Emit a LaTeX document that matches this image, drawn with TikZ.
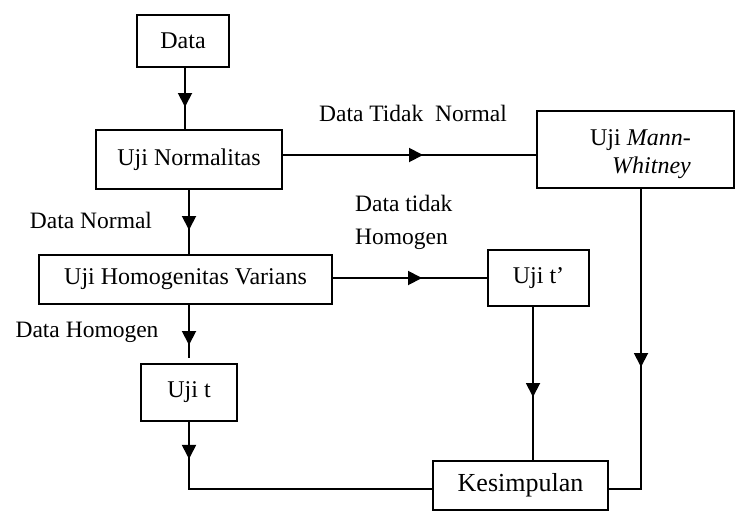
\documentclass[tikz,border=0pt]{standalone}
\usepackage{fontspec}
\setmainfont{Liberation Serif}
\usetikzlibrary{arrows.meta,decorations.markings}
\begin{document}
\begin{tikzpicture}[x=1pt,y=-1pt,
  box/.style={draw,line width=1.9pt,rectangle,inner sep=0pt,font=\fontsize{24}{28}\selectfont},
  lbl/.style={inner sep=0pt,font=\fontsize{23.5}{33}\selectfont},
  conn/.style={line width=1.9pt},
  arrowat/.style={postaction={decorate},decoration={markings,
     mark=at position #1 with {\arrow{Triangle[length=14pt,width=14pt]}}}}]
\useasboundingbox (0,0) rectangle (735,512);
% nodes
\node[box,minimum width=92pt,minimum height=52pt] (data) at (183,41) {Data};
\node[box,minimum width=186pt,minimum height=59pt] (norm) at (189,159.5) {Uji Normalitas};
\node[box,minimum width=293pt,minimum height=49pt] (homo) at (185.5,279.5) {Uji Homogenitas Varians};
\node[box,minimum width=96pt,minimum height=57pt] (ujit) at (189,392.5) {Uji t};
\node[box,minimum width=101pt,minimum height=56pt] (ujitp) at (538.5,278) {Uji t’};
\node[box,minimum width=197pt,minimum height=77pt] (mw) at (635.5,149.5) {};
\node[lbl,align=right,anchor=east,font=\fontsize{24}{28}\selectfont] (mwt) at (691,154) {Uji \textit{Mann-}\\\textit{Whitney}};
\node[box,minimum width=175pt,minimum height=49pt,font=\fontsize{26}{30}\selectfont] (kes) at (520.5,485.5) {Kesimpulan};
% labels
\node[lbl] (l1) at (413,113) {Data Tidak\ \ Normal};
\node[lbl] (l2) at (91,220) {Data Normal};
\node[lbl,align=left,anchor=west] (l3) at (355,222.5) {Data tidak\\Homogen};
\node[lbl] (l4) at (87,332) {Data Homogen};
% connectors
\coordinate (a1) at (185,67);
\draw[conn,arrowat=40pt] (a1) -- (a1 |- norm.north);
\coordinate (g1) at (189,189);
\draw[conn,arrowat=41pt] (g1) -- (g1 |- homo.north);
\coordinate (h1) at (189,304);
\draw[conn,arrowat=41pt,shorten >=5pt] (h1) -- (h1 |- ujit.north);
\coordinate (b1) at (189,489);
\draw[conn,arrowat=37pt] (ujit.south) -- (b1) -- (b1 -| kes.west);
\coordinate (c1) at (533,306);
\draw[conn,arrowat=91pt] (c1) -- (c1 |- kes.north);
\coordinate (d1) at (641,188);
\coordinate (d2) at (641,489);
\draw[conn,arrowat=179pt] (d1) -- (d2) -- (d2 -| kes.east);
\coordinate (e1) at (282,155);
\draw[conn,arrowat=141pt] (e1) -- (e1 -| mw.west);
\coordinate (f1) at (332,278);
\draw[conn,arrowat=90pt] (f1) -- (f1 -| ujitp.west);
\end{tikzpicture}
\end{document}
